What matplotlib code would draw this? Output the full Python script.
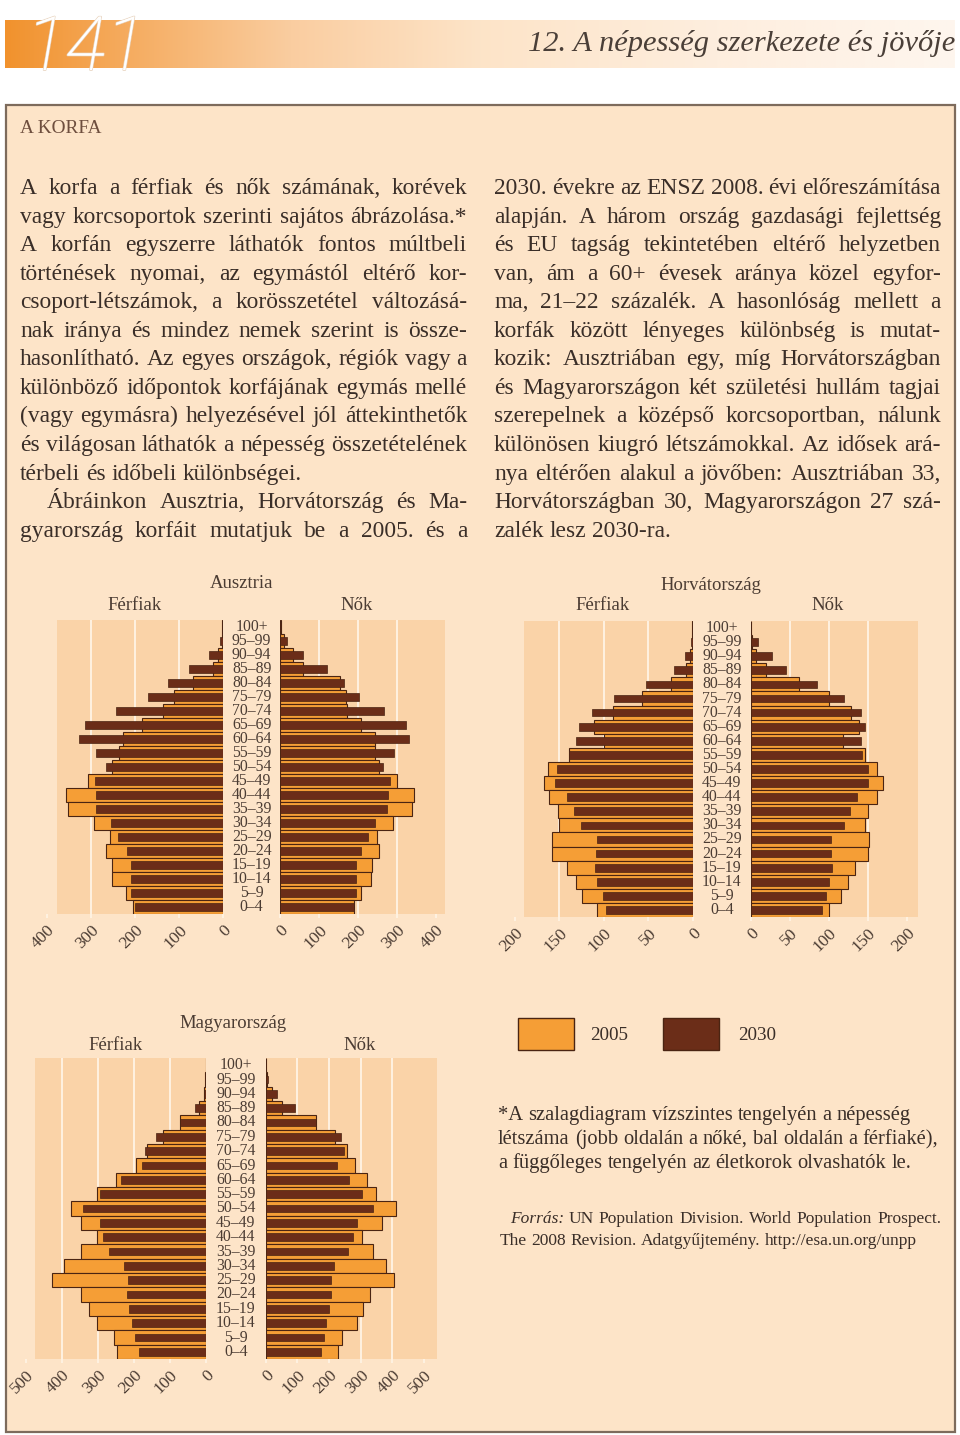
import matplotlib
matplotlib.use('Agg')
import matplotlib.pyplot as plt
import numpy as np
from matplotlib.patches import Rectangle
from matplotlib import transforms
import matplotlib.patheffects as pe

plt.rcParams['font.family'] = ['Liberation Serif', 'DejaVu Serif']

# ---------------- data ----------------
ages = ["100+", "95–99", "90–94", "85–89", "80–84", "75–79", "70–74", "65–69",
        "60–64", "55–59", "50–54", "45–49", "40–44", "35–39", "30–34", "25–29",
        "20–24", "15–19", "10–14", "5–9", "0–4"]   # top to bottom

at_men_2005 = [2, 3, 11, 23, 68, 111, 137, 183, 226, 235, 251, 306, 357, 352, 292, 257, 266, 252, 251, 220, 204]
at_men_2030 = [1.5, 7, 32, 78, 125, 171, 242, 312, 327, 287, 266, 291, 287, 287, 255, 238, 219, 209, 209, 208, 200]
at_wom_2005 = [2, 9, 33, 60, 153, 169, 173, 207, 243, 243, 254, 300, 344, 340, 290, 250, 254, 237, 234, 207, 190]
at_wom_2030 = [3, 19, 58, 121, 165, 204, 267, 323, 332, 293, 266, 284, 277, 274, 243, 225, 207, 195, 195, 195, 189]

hr_men_2005 = [0.4, 1, 3, 8, 24, 57, 89, 111, 100, 139, 163, 167, 161, 151, 150, 158, 158, 141, 131, 124, 107]
hr_men_2030 = [0.3, 2, 9, 21, 52, 88, 113, 128, 131, 139, 152, 155, 141, 133, 125, 108, 109, 110, 107, 101, 97]
hr_wom_2005 = [0.5, 2, 7, 20, 62, 100, 129, 139, 118, 146, 162, 169, 162, 150, 147, 152, 150, 134, 125, 116, 100]
hr_wom_2030 = [1, 9, 27, 45, 85, 119, 141, 147, 142, 143, 150, 151, 136, 127, 119, 103, 103, 104, 100, 97, 92]

hu_men_2005 = [0.5, 1, 6, 20, 71, 118, 164, 194, 250, 301, 374, 347, 303, 347, 395, 426, 346, 324, 303, 256, 245]
hu_men_2030 = [0.3, 1, 6, 30, 71, 139, 170, 178, 235, 294, 340, 294, 284, 269, 227, 215, 218, 212, 204, 196, 186]
hu_wom_2005 = [0.5, 3, 19, 53, 158, 219, 258, 282, 319, 347, 412, 368, 305, 340, 379, 406, 329, 308, 289, 240, 229]
hu_wom_2030 = [0.3, 6, 35, 93, 158, 238, 247, 224, 262, 304, 338, 287, 275, 259, 217, 206, 206, 200, 191, 184, 175]

ticks_at = [0, 100, 200, 300, 400]
ticks_hr = [0, 50, 100, 150, 200]
ticks_hu = [0, 100, 200, 300, 400, 500]

left_col = [
    "A korfa a férfiak és nők számának, korévek",
    "vagy korcsoportok szerinti sajátos ábrázolása.*",
    "A korfán egyszerre láthatók fontos múltbeli",
    "történések nyomai, az egymástól eltérő kor-",
    "csoport-létszámok, a korösszetétel változásá-",
    "nak iránya és mindez nemek szerint is össze-",
    "hasonlítható. Az egyes országok, régiók vagy a",
    "különböző időpontok korfájának egymás mellé",
    "(vagy egymásra) helyezésével jól áttekinthetők",
    "és világosan láthatók a népesség összetételének",
    "térbeli és időbeli különbségei.",
    "Ábráinkon Ausztria, Horvátország és Ma-",
    "gyarország korfáit mutatjuk be a 2005. és a",
]
right_col = [
    "2030. évekre az ENSZ 2008. évi előreszámítása",
    "alapján. A három ország gazdasági fejlettség",
    "és EU tagság tekintetében eltérő helyzetben",
    "van, ám a 60+ évesek aránya közel egyfor-",
    "ma, 21–22 százalék. A hasonlóság mellett a",
    "korfák között lényeges különbség is mutat-",
    "kozik: Ausztriában egy, míg Horvátországban",
    "és Magyarországon két születési hullám tagjai",
    "szerepelnek a középső korcsoportban, nálunk",
    "különösen kiugró létszámokkal. Az idősek ará-",
    "nya eltérően alakul a jövőben: Ausztriában 33,",
    "Horvátországban 30, Magyarországon 27 szá-",
    "zalék lesz 2030-ra.",
]
footnote = [
    "*A szalagdiagram vízszintes tengelyén a népesség",
    "létszáma (jobb oldalán a nőké, bal oldalán a férfiaké),",
    "a függőleges tengelyén az életkorok olvashatók le.",
]
source_label = "Forrás:"
source_lines = [
    "UN Population Division. World Population Prospect.",
    "The 2008 Revision. Adatgyűjtemény. http://esa.un.org/unpp",
]

# ---------------- style ----------------
BOXFILL = '#FDE4C8'
PANEL = '#FAD3A8'
GRID = '#FFF4E6'
ORANGE = '#F59E36'
BROWN = '#6B2D18'
EDGE = '#4A2412'
TXT = '#3A2E28'
TXT2 = '#4B3C33'

W, H = 960, 1435
fig = plt.figure(figsize=(W / 100, H / 100), dpi=100)
fig.patch.set_facecolor('white')
bg = fig.add_axes([0, 0, 1, 1])
bg.set_xlim(0, W)
bg.set_ylim(H, 0)
bg.axis('off')
R = fig.canvas.get_renderer()


def tw(s, size, **kw):
    t = bg.text(0, 0, s, fontsize=size, **kw)
    w = t.get_window_extent(R).width
    t.remove()
    return w


def fit(s, target, base=14, **kw):
    return base * target / tw(s, base, **kw)


def line(x0, y, s, size, x1=None, color=TXT, **kw):
    words = s.split(' ')
    arts = [bg.text(0, y, w, fontsize=size, va='baseline', ha='left', color=color, **kw) for w in words]
    widths = [a.get_window_extent(R).width for a in arts]
    space = tw('a a', size, **kw) - 2 * tw('a', size, **kw)
    if x1 is not None and len(words) > 1:
        gap = (x1 - x0 - sum(widths)) / (len(words) - 1)
    else:
        gap = space
    x = x0
    for a, w in zip(arts, widths):
        a.set_x(x)
        x += w + gap
    return x - gap + space


# ---------------- header ----------------
stops = np.array([0.0, 0.12, 0.3, 0.5, 0.75, 1.0])
cols = np.array([[241, 146, 45], [245, 170, 92], [250, 205, 160],
                 [253, 228, 200], [254, 238, 222], [254, 246, 238]]) / 255.0
xs = np.linspace(0, 1, 500)
grad = np.stack([np.interp(xs, stops, cols[:, i]) for i in range(3)], axis=-1)[None, :, :]
bg.imshow(grad, extent=[5, 955, 68, 20], aspect='auto', zorder=1, interpolation='bilinear')
bg.set_xlim(0, W)
bg.set_ylim(H, 0)

bg.text(26, 70, "141", fontsize=54, family=['Roboto', 'DejaVu Sans'], style='italic',
        weight=100, color='white', va='baseline', ha='left', zorder=3,
        path_effects=[pe.withStroke(linewidth=1.2, foreground='#E9D6C2'), pe.Normal()])
title = "12. A népesség szerkezete és jövője"
ts = fit(title, 428, base=20, style='italic')
bg.text(955, 51, title, fontsize=ts, style='italic', color='#4A3F38', va='baseline', ha='right', zorder=3)

# ---------------- box ----------------
bg.add_patch(Rectangle((6, 105), 949, 1327, facecolor=BOXFILL, edgecolor='#7D6B5C', lw=1.6, zorder=0.5))

ks = fit("A KORFA", 81, base=12)
bg.text(20, 133, "A KORFA", fontsize=ks, color='#6E4E3E', va='baseline', ha='left')

body = fit("zalék lesz 2030-ra.", 178, base=15)
y0, dy = 194, 28.56
for i, s in enumerate(left_col):
    x0 = 47 if i == 11 else 20
    just = i != 10
    line(x0, y0 + i * dy, s, body, x1=467 if just else None)
for i, s in enumerate(right_col):
    just = i != len(right_col) - 1
    line(494, y0 + i * dy, s, body, x1=941 if just else None)

# ---------------- pyramids ----------------
yy = np.arange(len(ages))[::-1]


def pyramid(zero_l, sc_l, lmax, bg_l_px, zero_r, sc_r, r_px, top, bot, ticks,
            m05, m30, f05, f30, name, name_x, name_y, fer_x, nok_x, sub_y):
    left_px = zero_l - lmax * sc_l
    lbg = (zero_l - bg_l_px) / sc_l
    rmax = (r_px - zero_r) / sc_r
    axL = fig.add_axes([left_px / W, 1 - bot / H, (zero_l - left_px) / W, (bot - top) / H])
    axR = fig.add_axes([zero_r / W, 1 - bot / H, (r_px - zero_r) / W, (bot - top) / H])
    for ax, lim, bgv, men, m2 in [(axL, (lmax, 0), lbg, m05, m30), (axR, (0, rmax), rmax, f05, f30)]:
        ax.set_facecolor('none')
        ax.axvspan(0, bgv, color=PANEL, lw=0, zorder=0)
        for t in ticks[1:-1]:
            ax.axvline(t, color=GRID, lw=1.3, zorder=0.5)
        ax.barh(yy, men, height=1.0, color=ORANGE, edgecolor=EDGE, lw=0.8, zorder=2)
        ax.barh(yy, m2, height=0.55, color=BROWN, edgecolor=EDGE, lw=0.5, zorder=3)
        ax.set_xlim(*lim)
        ax.set_ylim(-0.5, len(ages) - 0.5)
        ax.set_yticks([])
        ax.set_xticks(ticks)
        ax.set_xticklabels([str(t) for t in ticks], rotation=45, ha='right',
                           rotation_mode='anchor', fontsize=12.5, color=TXT2)
        ax.tick_params(axis='x', length=3, width=1.2, color=GRID, pad=3)
        for sp in ax.spines.values():
            sp.set_visible(False)
    tr = transforms.blended_transform_factory(bg.transData, axL.transData)
    cx = (zero_l + zero_r) / 2
    for a, yv in zip(ages, yy):
        bg.text(cx, yv, a, transform=tr, ha='center', va='center', fontsize=11.3, color=TXT2)
    bg.text(name_x, name_y, name, ha='center', va='center', fontsize=13.5, color=TXT2)
    bg.text(fer_x, sub_y, "Férfiak", ha='center', va='center', fontsize=13.5, color=TXT2)
    bg.text(nok_x, sub_y, "Nők", ha='center', va='center', fontsize=13.5, color=TXT2)


pyramid(223.3, 0.442, 400, 56.7, 280.0, 0.389, 445.0, 620.3, 913.7, ticks_at,
        at_men_2005, at_men_2030, at_wom_2005, at_wom_2030,
        "Ausztria", 241.5, 584, 135, 357, 606)
pyramid(692.7, 0.89, 200, 524.0, 750.7, 0.78, 918.3, 621.0, 917.0, ticks_hr,
        hr_men_2005, hr_men_2030, hr_wom_2005, hr_wom_2030,
        "Horvátország", 710.7, 585, 603, 828, 606)
pyramid(205.7, 0.36, 500, 35.0, 265.7, 0.3167, 436.7, 1058.0, 1359.0, ticks_hu,
        hu_men_2005, hu_men_2030, hu_wom_2005, hu_wom_2030,
        "Magyarország", 232.7, 1023, 115.7, 360, 1045)

# ---------------- legend ----------------
bg.add_patch(Rectangle((518, 1018), 56, 32, facecolor=ORANGE, edgecolor=EDGE, lw=1.0, zorder=2))
bg.add_patch(Rectangle((663, 1018), 56, 32, facecolor=BROWN, edgecolor=EDGE, lw=1.0, zorder=2))
ls = fit("2005", 38.5, base=14)
bg.text(590, 1040, "2005", fontsize=ls, color=TXT, va='baseline', ha='left')
bg.text(738, 1040, "2030", fontsize=ls, color=TXT, va='baseline', ha='left')

# ---------------- footnote and source ----------------
fs = fit(footnote[1], 440, base=13)
for i, s in enumerate(footnote):
    line(498, 1120 + i * 24, s, fs)
ss = fit(source_label + " " + source_lines[0], 418, base=13)
xe = line(510, 1223, source_label, ss, style='italic')
line(xe, 1223, source_lines[0], ss, x1=941)
line(500, 1245, source_lines[1], ss)

fig.savefig('out.png', dpi=100, facecolor='white')
